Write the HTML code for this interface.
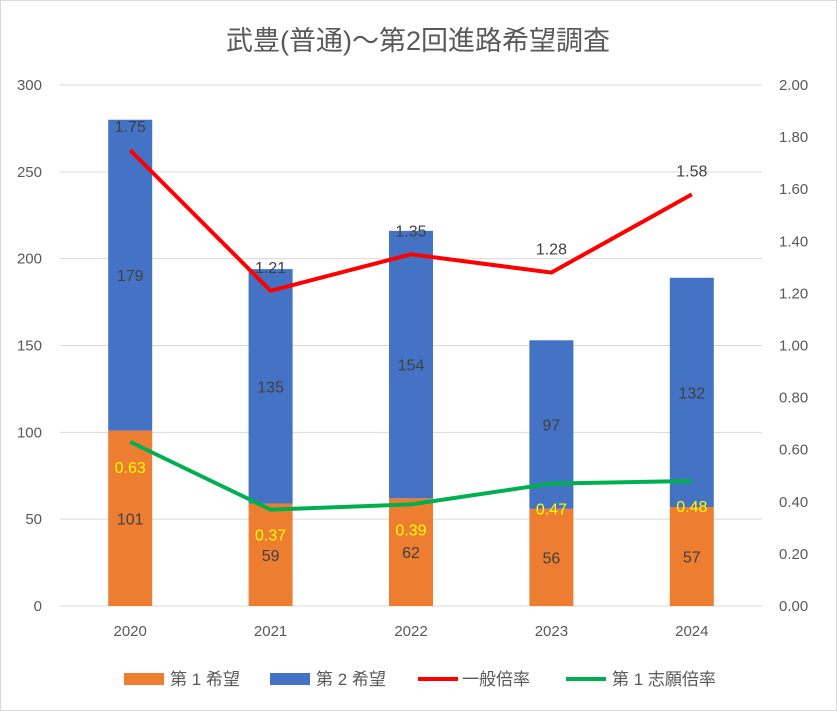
<!DOCTYPE html>
<html><head><meta charset="utf-8">
<style>
body{margin:0;background:#fff;}
svg{display:block;font-family:"Liberation Sans","Noto Sans CJK JP",sans-serif;}
</style></head>
<body>
<svg id="chart" width="837" height="711">
<rect x="0.5" y="0.5" width="836" height="710" fill="#fff" stroke="#d9d9d9"/>
<text x="418" y="50" text-anchor="middle" font-size="27" fill="#595959">武豊(普通)～第2回進路希望調査</text>
<g id="grid"></g><g id="bars"></g><g id="lines"></g><g id="labels"></g><g id="axes"></g>
<g font-size="17" fill="#595959">
<rect x="124" y="673" width="40" height="12" fill="#ed7d31"/>
<text x="170" y="685">第 1 希望</text>
<rect x="270" y="673" width="40" height="12" fill="#4472c4"/>
<text x="316" y="685">第 2 希望</text>
<line x1="418" y1="679" x2="458" y2="679" stroke="#ff0000" stroke-width="4"/>
<text x="462" y="685">一般倍率</text>
<line x1="566" y1="679" x2="606" y2="679" stroke="#00b050" stroke-width="4"/>
<text x="612" y="685">第 1 志願倍率</text>
</g>
</svg>
<script>
const categories=["2020","2021","2022","2023","2024"];
const firstChoice=[101,59,62,56,57];
const secondChoice=[179,135,154,97,132];
const generalRatio=[1.75,1.21,1.35,1.28,1.58];
const firstRatio=[0.63,0.37,0.39,0.47,0.48];
const leftTicks=[0,50,100,150,200,250,300];
const rightTicks=["0.00","0.20","0.40","0.60","0.80","1.00","1.20","1.40","1.60","1.80","2.00"];

const NS="http://www.w3.org/2000/svg";
const L=60,R=762,T=85,B=606;
const yL=v=>B-(v/300)*(B-T);
const yR=v=>B-(v/2)*(B-T);
const band=(R-L)/categories.length;
const xC=i=>L+band*(i+0.5);
function mk(tag,attrs,parent,text){const e=document.createElementNS(NS,tag);for(const k in attrs)e.setAttribute(k,attrs[k]);if(text!==undefined)e.textContent=text;document.getElementById(parent).appendChild(e);return e;}

leftTicks.forEach(t=>{
  const g=mk("line",{x1:L,x2:R,y1:yL(t),y2:yL(t),stroke:"#d9d9d9"},"grid");
  
  
  const tx=mk("text",{x:42,y:yL(t)+5,"text-anchor":"end","font-size":"15",fill:"#595959"},"axes",t);
  
  
});
rightTicks.forEach(t=>{
  const tx=mk("text",{x:779,y:yR(parseFloat(t))+5,"font-size":"15",fill:"#595959"},"axes",t);
  
  
});
categories.forEach((c,i)=>{
  const tx=mk("text",{x:xC(i),y:636,"text-anchor":"middle","font-size":"15",fill:"#595959"},"axes",c);
  
  
  const bw=44,x=xC(i)-bw/2;
  const b1=mk("rect",{x:x,y:yL(firstChoice[i]),width:bw,height:B-yL(firstChoice[i]),fill:"#ed7d31"},"bars");
  
  
  const top=firstChoice[i]+secondChoice[i];
  const b2=mk("rect",{x:x,y:yL(top),width:bw,height:yL(firstChoice[i])-yL(top),fill:"#4472c4"},"bars");
  
  
  const l1=mk("text",{x:xC(i),y:(yL(firstChoice[i])+B)/2+6,"text-anchor":"middle","font-size":"16",fill:"#404040"},"labels",firstChoice[i]);
  
  
  const l2=mk("text",{x:xC(i),y:(yL(firstChoice[i])+yL(top))/2+6,"text-anchor":"middle","font-size":"16",fill:"#404040"},"labels",secondChoice[i]);
  
  
  const l3=mk("text",{x:xC(i),y:yR(generalRatio[i])-18,"text-anchor":"middle","font-size":"16",fill:"#404040"},"labels",generalRatio[i].toFixed(2));
  
  
  const l4=mk("text",{x:xC(i),y:yR(firstRatio[i])+31,"text-anchor":"middle","font-size":"16",fill:"#ffff00"},"labels",firstRatio[i].toFixed(2));
  
  
});
const p1=mk("polyline",{points:generalRatio.map((v,i)=>xC(i)+","+yR(v)).join(" "),fill:"none",stroke:"#ff0000","stroke-width":"4","stroke-linejoin":"round"},"lines");


const p2=mk("polyline",{points:firstRatio.map((v,i)=>xC(i)+","+yR(v)).join(" "),fill:"none",stroke:"#00b050","stroke-width":"4","stroke-linejoin":"round"},"lines");


</script>
</body></html>
